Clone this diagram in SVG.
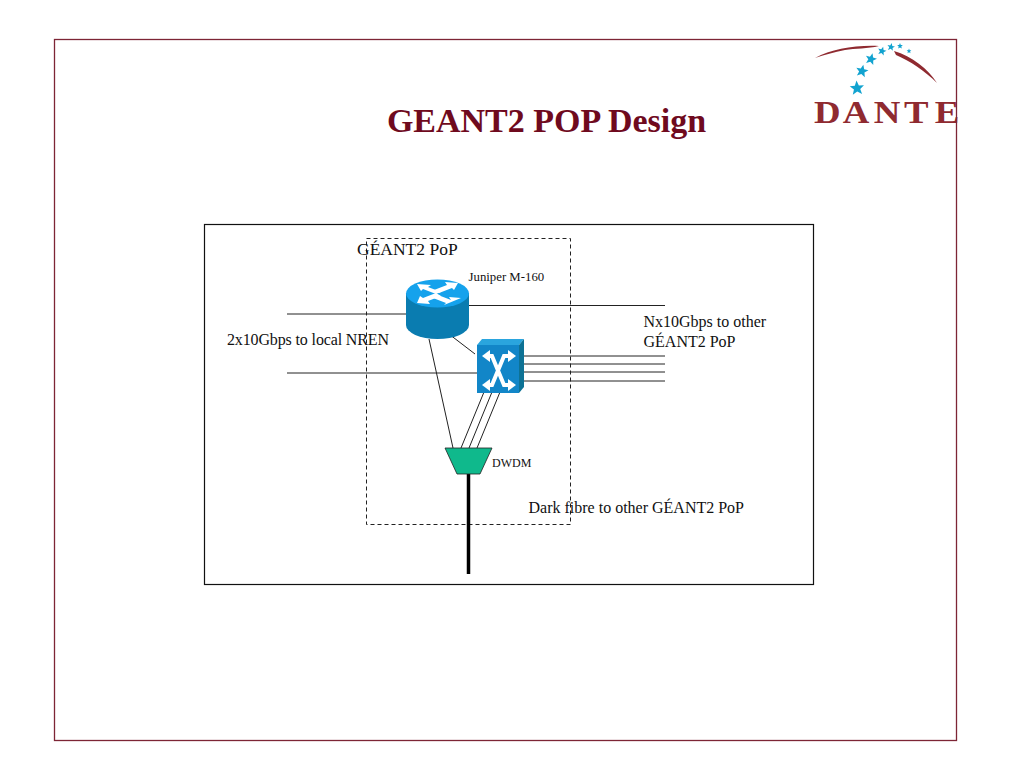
<svg xmlns="http://www.w3.org/2000/svg" width="1024" height="768" viewBox="0 0 1024 768">
<style>
text{font-family:"Liberation Serif","Times New Roman",serif;fill:#111}
.l{stroke:#222;stroke-width:1;fill:none}
.star{fill:#12a3d0}
.red{fill:#8f2a30}
.arrow{fill:#fff}
</style>
<defs>
<polygon id="star" class="star" points="0,-1 0.27,-0.324 0.951,-0.309 0.42,0.16 0.62,0.85 0,0.47 -0.62,0.85 -0.42,0.16 -0.951,-0.309 -0.27,-0.324"/>
</defs>
<rect width="1024" height="768" fill="#fff"/>
<g id="logo">
<path class="red" d="M815,58 C832,49 855,45 879,46 C868,49 855,48 845,50 C834,52 824,55 815,58Z"/>
<path class="red" d="M894,51 C912,56 928,69 937,83 C925,71 910,61 896,55Z"/>
<use href="#star" transform="translate(857,88) scale(7.500) rotate(-4)"/>
<use href="#star" transform="translate(862,71) scale(6.500) rotate(12)"/>
<use href="#star" transform="translate(871,59) scale(6) rotate(15)"/>
<use href="#star" transform="translate(882,51) scale(4.500) rotate(15)"/>
<use href="#star" transform="translate(891,47) scale(4) rotate(10)"/>
<use href="#star" transform="translate(900,46) scale(3)"/>
<use href="#star" transform="translate(909,51) scale(2.500)"/>
<text transform="translate(814,123) scale(1.150,1)" class="red" style="fill:#8f2a30;font-weight:bold" font-size="32" x="0 25 52 78.300 105">DANTE</text>
</g>
<rect id="frame" x="54.500" y="39.500" width="902" height="701" fill="none" stroke="#7d2535" stroke-width="1.300"/>
<text id="title" x="546.500" y="131.500" text-anchor="middle" font-size="34" font-weight="bold" style="fill:#6f0a1e">GEANT2 POP Design</text>
<rect id="panel" x="204.500" y="224.500" width="609" height="360" fill="none" stroke="#111" stroke-width="1.200"/>
<rect id="pop-boundary" x="366.500" y="238.500" width="204" height="286" fill="none" stroke="#222" stroke-width="1" stroke-dasharray="4 3"/>
<g id="connectors">
<line class="l" x1="287" y1="314" x2="406" y2="314"/>
<line class="l" x1="287" y1="373" x2="477" y2="373"/>
<line class="l" x1="469" y1="305.500" x2="665" y2="305.500"/>
<line class="l" x1="445" y1="331" x2="475" y2="354"/>
<line class="l" x1="429" y1="339" x2="453" y2="448"/>
<line class="l" x1="484" y1="392" x2="461" y2="448"/>
<line class="l" x1="492" y1="392" x2="469" y2="448"/>
<line class="l" x1="500" y1="392" x2="477" y2="448"/>
<line class="l" x1="523" y1="356" x2="665" y2="356"/>
<line class="l" x1="523" y1="364" x2="665" y2="364"/>
<line class="l" x1="523" y1="372" x2="665" y2="372"/>
<line class="l" x1="523" y1="381" x2="665" y2="381"/>
<line x1="468.500" y1="474" x2="468.500" y2="574" stroke="#000" stroke-width="3.500"/>
</g>
<g id="router">
<path d="M406,293 V325 A31.500,14 0 0 0 469,325 V293Z" fill="#0a7cb0"/>
<ellipse cx="437.500" cy="293.500" rx="31.500" ry="14" fill="#15a2ec"/>
<g class="arrow">
<polygon points="417,284 431,285 428,287 441,292 436,294 423,289 421,291"/>
<polygon points="458,283 445,282 447,285 434,290 439,293 452,288 454,290"/>
<polygon points="417,303 430,304 428,301 441,296 436,293 423,298 420,296"/>
<polygon points="461,298 449,297 451,300 438,295 433,298 446,303 444,305"/>
</g>
</g>
<g id="switch">
<polygon points="477,345 482,339 524,339 519,345" fill="#2aa5de"/>
<polygon points="519,345 524,339 524,387 519,393" fill="#0d7295"/>
<rect x="477" y="345" width="42" height="48" fill="#1286c8"/>
<path d="M487,356 H492 L504,385 H509 M487,385 H492 L504,356 H509" stroke="#fff" stroke-width="4" fill="none"/>
<g class="arrow">
<polygon points="482,356 490,350 490,362"/>
<polygon points="516,356 508,350 508,362"/>
<polygon points="482,385 490,379 490,391"/>
<polygon points="516,385 508,379 508,391"/>
</g>
</g>
<g id="dwdm">
<polygon points="445,448 492,448 480,474 457,474" fill="#0fb98c" stroke="#222" stroke-width="0.800"/>
<text x="492" y="467" font-size="12">DWDM</text>
</g>
<g id="labels">
<text x="357" y="255" font-size="17.500">GÉANT2 PoP</text>
<text x="468.500" y="281" font-size="12.800">Juniper M-160</text>
<text x="227" y="345" font-size="16" textLength="162">2x10Gbps to local NREN</text>
<text x="643.500" y="327" font-size="16">Nx10Gbps to other</text>
<text x="643.500" y="347" font-size="16">GÉANT2 PoP</text>
<text x="528.500" y="513" font-size="16">Dark fibre to other GÉANT2 PoP</text>
</g>
</svg>
